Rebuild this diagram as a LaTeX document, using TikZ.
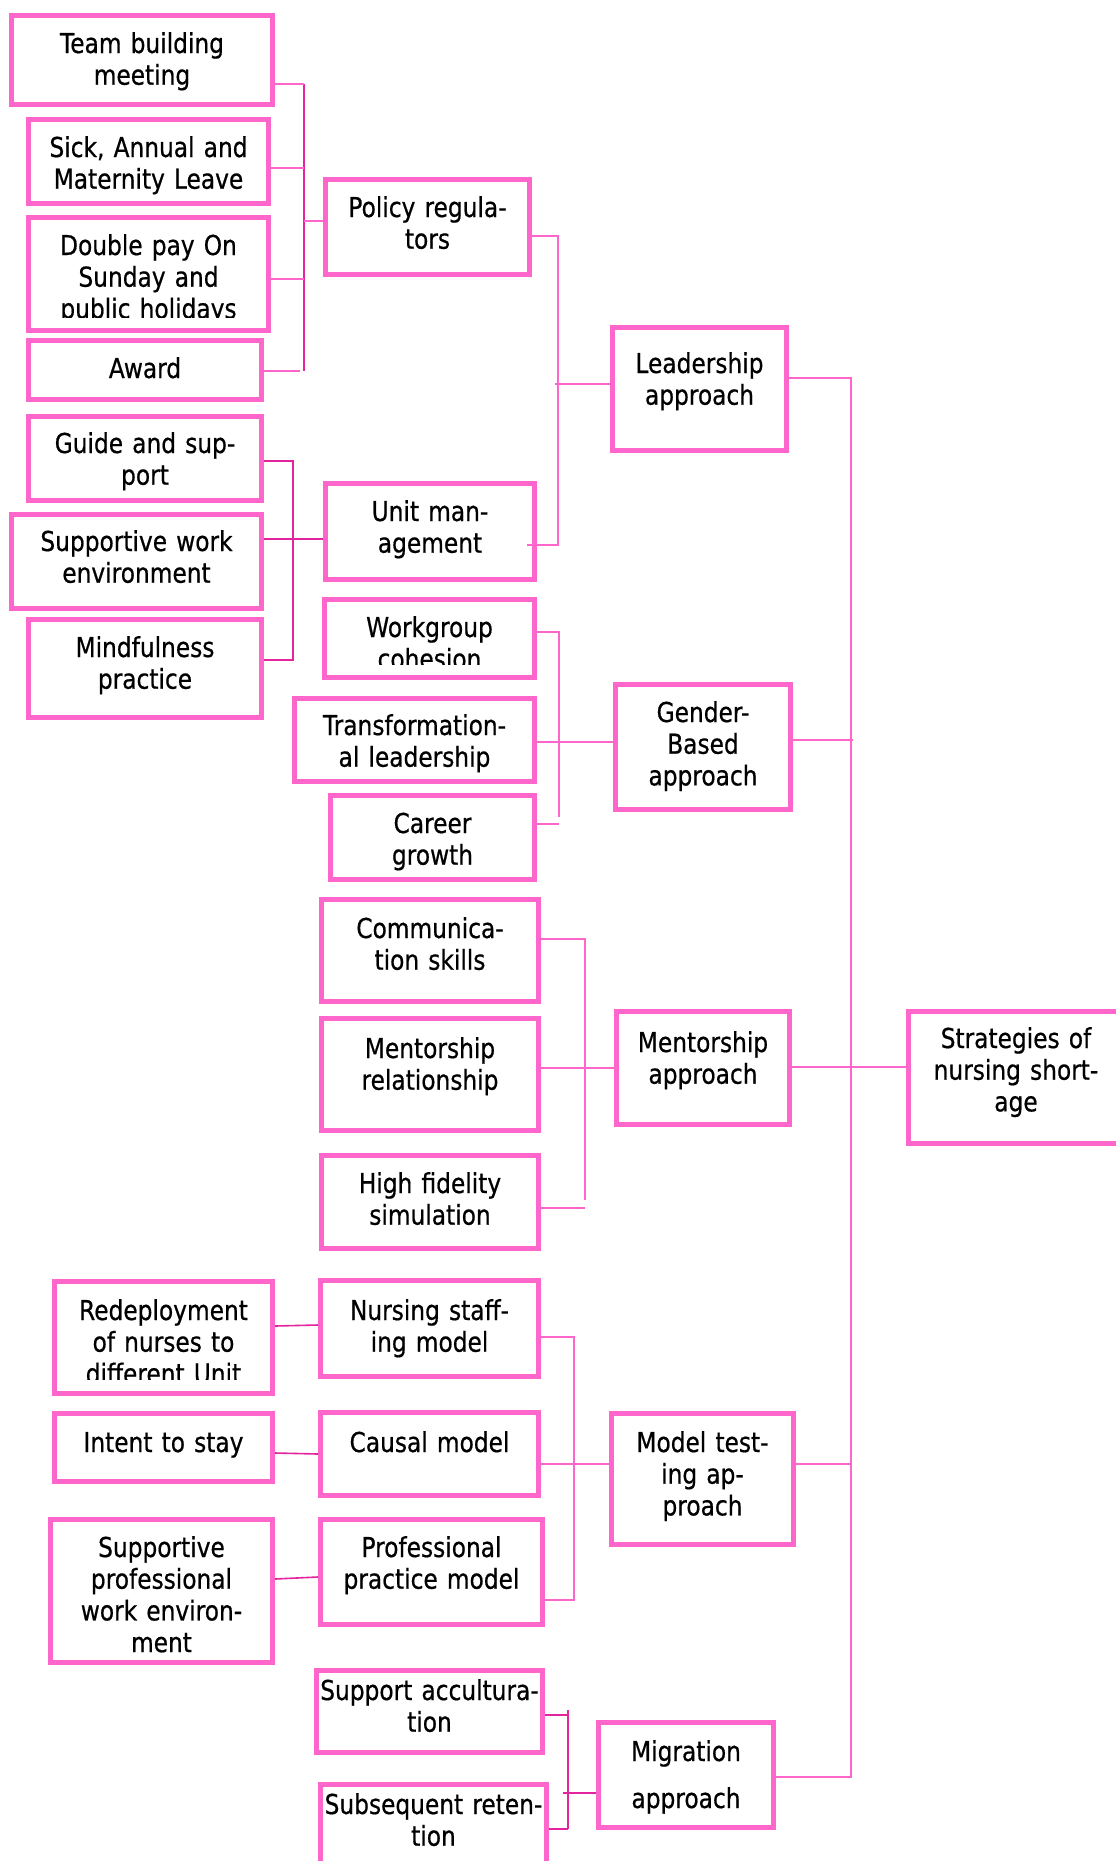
\documentclass[tikz,border=0pt]{standalone}
\usepackage{fontspec}
\setmainfont[FakeStretch=0.85,FakeBold=0.6]{DejaVu Sans}
\definecolor{boxpink}{RGB}{255,102,204}
\definecolor{darkpink}{RGB}{228,36,158}
\tikzset{
  box/.style={draw=boxpink, line width=5pt, rectangle, inner sep=0pt},
  txt/.style={inner sep=0pt, text width=320pt, align=center, anchor=base,
    font=\fontsize{27.4pt}{31.7pt}\selectfont},
  lline/.style={draw=boxpink, line width=1.5pt},
  dline/.style={draw=darkpink, line width=1.6pt},
}
\newcommand{\bx}[7]{%
  \node[box, minimum width={#4-#2-5}, minimum height={#5-#3-5}] (#1) at ({(#2+#4)/2},{(#3+#5)/2}) {};
  \node[txt] (#1t) at ({(#2+#4)/2},#6) {#7};
}
\newcommand{\bxc}[8]{%
  \node[box, minimum width={#4-#2-5}, minimum height={#5-#3-5}] (#1) at ({(#2+#4)/2},{(#3+#5)/2}) {};
  \begin{scope}
    \clip (#2,#3) rectangle (#4,#8);
    \node[txt] (#1t) at ({(#2+#4)/2},#6) {#7};
  \end{scope}
}
\begin{document}
\begin{tikzpicture}[x=1pt,y=-1pt]
\path[use as bounding box] (0,0) rectangle (1116,1861);
\clip (0,0) rectangle (1116,1861);
\fill[white] (0,0) rectangle (1116,1861);

% ---- boxes ----
\bx{tb}{9}{13}{275}{107}{53}{Team building\\meeting}
\bx{sick}{26}{117}{271}{206}{157}{Sick, Annual and\\Maternity Leave}
\bxc{dbl}{26}{215}{271}{333}{255}{Double pay On\\Sunday and\\public holidays}{317}
\bx{award}{26}{338}{264}{402}{378}{Award}
\bx{policy}{323}{177}{532}{277}{217}{Policy regula-\\tors}
\bx{guide}{26}{414}{264}{503}{453}{Guide and sup-\\port}
\bx{sw}{9}{512}{264}{611}{551}{Supportive work\\environment}
\bx{mind}{26}{617}{264}{720}{657}{Mindfulness\\practice}
\bx{unit}{323}{481}{537}{582}{521}{Unit man-\\agement}
\bx{lead}{610}{325}{789}{453}{373}{Leadership\\approach}
\bxc{work}{322}{597}{537}{680}{637}{Workgroup\\cohesion}{664}
\bx{trans}{292}{696}{537}{784}{735}{Transformation-\\al leadership}
\bx{career}{328}{793}{537}{882}{833}{Career\\growth}
\bx{gender}{613}{682}{793}{812}{722}{Gender-\\Based\\approach}
\bx{comm}{319}{897}{541}{1004}{938}{Communica-\\tion skills}
\bx{mrel}{319}{1016}{541}{1133}{1058}{Mentorship\\relationship}
\bx{hf}{319}{1153}{541}{1251}{1193}{High fidelity\\simulation}
\bx{mapp}{614}{1009}{792}{1127}{1052}{Mentorship\\approach}
\bx{strat}{906}{1009}{1126}{1146}{1048}{Strategies of\\nursing short-\\age}
\bxc{redep}{52}{1279}{275}{1396}{1320}{Redeployment\\of nurses to\\different Unit}{1379}
\bx{intent}{52}{1411}{275}{1484}{1452}{Intent to stay}
\bx{spwe}{48}{1517}{275}{1665}{1557}{Supportive\\professional\\work environ-\\ment}
\bx{nsm}{318}{1278}{541}{1379}{1320}{Nursing staff-\\ing model}
\bx{causal}{318}{1410}{541}{1498}{1452}{Causal model}
\bx{ppm}{318}{1517}{545}{1627}{1557}{Professional\\practice model}
\bx{mta}{609}{1411}{796}{1547}{1452}{Model test-\\ing ap-\\proach}
\bx{sacc}{314}{1668}{545}{1755}{1700}{Support accultura-\\tion}
\bx{sret}{318}{1782}{549}{1880}{1814}{Subsequent reten-\\tion}
\bx{mig}{596}{1720}{776}{1830}{1761}{Migration\\[15.3pt]approach}

% ---- policy group ----
\coordinate (pt) at (304,84);
\coordinate (pb) at (304,371);
\draw[dline] (pt) -- (pb);
\draw[lline] (tb.east |- pt) -- (pt);
\draw[lline] (sick.east |- 0,168) -- (pt |- 0,168);
\draw[lline] (dbl.east |- 0,279) -- (pt |- 0,279);
\draw[lline] (award.east |- pb) -- ([xshift=-4pt]pb);
\draw[lline] (pt |- 0,221) -- (policy.west |- 0,221);

% ---- leadership group ----
\coordinate (lt) at (558,236);
\coordinate (lb) at (558,545);
\draw[lline] (policy.east |- lt) -- (lt) -- (lb) -- ([xshift=-10pt]unit.east |- lb);
\draw[lline] ([xshift=-3pt]lt |- 0,384) -- (lead.west |- 0,384);

% ---- unit group ----
\coordinate (ut) at (293,461);
\coordinate (ub) at (293,660);
\draw[dline] (guide.east |- ut) -- (ut) -- (ub) -- (mind.east |- ub);
\draw[dline] (sw.east |- 0,539) -- (unit.west |- 0,539);

% ---- gender group ----
\coordinate (gt) at (559,632);
\coordinate (gb) at (559,817);
\draw[lline] (work.east |- gt) -- (gt) -- (gb);
\draw[lline] (career.east |- 0,824) -- (gb |- 0,824);
\draw[lline] (trans.east |- 0,742) -- (gender.west |- 0,742);

% ---- main bar ----
\coordinate (mt) at (851,378);
\coordinate (mb) at (851,1777);
\draw[lline] (lead.east |- mt) -- (mt) -- (mb) -- (mig.east |- mb);
\draw[lline] (gender.east |- 0,740) -- ([xshift=2pt]mt |- 0,740);
\draw[lline] (mapp.east |- 0,1067) -- (strat.west |- 0,1067);
\draw[lline] (mta.east |- 0,1464) -- (mt |- 0,1464);

% ---- mentorship group ----
\coordinate (ct) at (585,939);
\coordinate (cb) at (585,1208);
\draw[lline] (comm.east |- ct) -- (ct) -- (cb |- 0,1200);
\draw[lline] (hf.east |- cb) -- (cb);
\draw[lline] (mrel.east |- 0,1068) -- (mapp.west |- 0,1068);

% ---- model group ----
\draw[dline] (redep.east |- 0,1326) -- (nsm.west |- 0,1325);
\draw[dline] (intent.east |- 0,1453) -- (causal.west |- 0,1454);
\draw[dline] (spwe.east |- 0,1579) -- (ppm.west |- 0,1577);
\coordinate (nt) at (574,1337);
\coordinate (nb) at (574,1600);
\draw[lline] (nsm.east |- nt) -- (nt) -- (nb) -- (ppm.east |- nb);
\draw[lline] (causal.east |- 0,1464) -- (mta.west |- 0,1464);

% ---- migration group ----
\coordinate (st) at (568,1710);
\coordinate (sb) at (568,1829);
\draw[dline] (st) -- (sb);
\draw[dline] (sacc.east |- 0,1715) -- (st |- 0,1715);
\draw[dline] (sret.east |- sb) -- (sb);
\draw[dline] ([xshift=-5pt]st |- 0,1793) -- (mig.west |- 0,1793);
\end{tikzpicture}
\end{document}
